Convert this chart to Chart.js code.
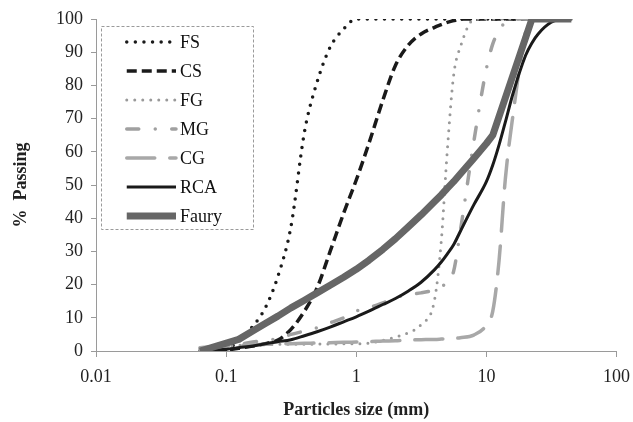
<!DOCTYPE html>
<html>
<head>
<meta charset="utf-8">
<script src="https://cdn.jsdelivr.net/npm/chart.js@4.4.1/dist/chart.umd.min.js"></script>
<style>
html, body { margin: 0; padding: 0; background: #fff; }
</style>
</head>
<body>
<canvas id="grafico" width="633" height="422"></canvas>
<script>
// tamices (mm)
const tamices = [0.063, 0.08, 0.1, 0.125, 0.16, 0.2, 0.25, 0.315, 0.4, 0.5, 0.63, 0.8, 1, 1.25, 1.6, 2, 2.5, 3.15, 4, 4.5, 5, 5.6, 6.3, 8, 10, 11.2, 12.5, 14, 16, 20, 22.4, 25, 31.5, 40, 45]
// % que pasa
const pasaFS = [0, 0, 0.5, 3, 7.4, 13, 22.5, 37.5, 66, 81, 91.5, 97, 100, 100, 100, 100, 100, 100, 100, 100, 100, 100, 100, 100, 100, 100, 100, 100, 100, 100, 100, 100, 100, 100, 100]
const pasaCS = [0, 0, 0.3, 0.8, 1.5, 2.2, 3.3, 6.5, 12, 19, 30, 41.5, 51.5, 62.5, 75.5, 86, 92, 95.5, 97.5, 98.3, 99, 99.5, 100, 100, 100, 100, 100, 100, 100, 100, 100, 100, 100, 100, 100]
const pasaFG = [1, 1.3, 1.5, 1.7, 1.8, 1.9, 2, 2, 2, 2.1, 2.1, 2.2, 2.2, 2.4, 3.2, 4.2, 5.5, 8, 15.5, 33, 60, 83, 91.5, 99.8, 100, 100, 100, 100, 100, 100, 100, 100, 100, 100, 100]
const pasaMG = [0.5, 1, 1.5, 2, 2.7, 3.2, 3.7, 5, 6, 7, 8.5, 10, 12, 13, 14.5, 16, 17, 17.5, 18.5, 19.5, 20.5, 24, 36, 63, 85, 92.5, 96.5, 99, 100, 100, 100, 100, 100, 100, 100]
const pasaCG = [1, 1.3, 1.5, 1.7, 1.9, 2, 2.1, 2.2, 2.3, 2.4, 2.5, 2.6, 2.7, 2.8, 3, 3.1, 3.3, 3.4, 3.5, 3.6, 3.7, 3.8, 4, 4.8, 7.8, 12, 27, 52, 71, 96, 100, 100, 100, 100, 100]
const pasaRCA = [0, 0.2, 0.5, 1, 1.5, 2.2, 2.8, 3.4, 4.6, 5.8, 7.2, 8.8, 10.3, 12, 14, 15.8, 18, 20.7, 24.5, 26.8, 29.2, 32, 36, 44, 51, 56, 62, 69, 77.5, 89, 92.8, 95.5, 99, 100, 100]
const pasaFaury = [0, null, null, 3.5, 6, 8.3, 10.5, 13, 15.3, 17.5, 19.8, 22.2, 24.6, 27.3, 30.6, 33.8, 37.3, 41, 45, 47, 49, 51, 53.3, 58, 62.5, 65, null, null, null, null, 100, null, null, null, 100]

const ticksX = [0.01, 0.1, 1, 10, 100]
const etiquetasX = ['0.01', '0.1', '1', '10', '100']

const fuente = "'Liberation Serif', 'Times New Roman', serif"
const gris = '#9a9a9a'

Chart.defaults.font.family = fuente
Chart.defaults.font.size = 18
Chart.defaults.color = '#222'

function puntos(valores){
    return tamices.map((t, i) => ({x: t, y: valores[i]}))
}

function serie(nombre, valores, color, ancho, guiones, tapa, orden){
    return {
        label: nombre,
        data: puntos(valores),
        borderColor: color,
        borderWidth: ancho,
        borderDash: guiones,
        borderCapStyle: tapa,
        borderJoinStyle: 'round',
        cubicInterpolationMode: 'monotone',
        pointRadius: 0,
        fill: false,
        order: orden
    }
}

const datasets = [
    serie('FS', pasaFS, '#1a1a1a', 3.5, [0, 8.6], 'round', 7),
    serie('CS', pasaCS, '#1a1a1a', 3.5, [10, 5], 'butt', 6),
    serie('FG', pasaFG, '#999999', 3, [0, 8], 'round', 5),
    serie('MG', pasaMG, '#a0a0a0', 3.5, [12, 16.5, 0, 16.5], 'round', 4),
    serie('CG', pasaCG, '#a8a8a8', 3.5, [28, 15], 'round', 3),
    serie('RCA', pasaRCA, '#1a1a1a', 3, [], 'butt', 2),
    serie('Faury', pasaFaury, '#666666', 7, [], 'butt', 1)
]
datasets[6].cubicInterpolationMode = 'default'
datasets[6].tension = 0
datasets[6].spanGaps = true

const leyenda = {
    id: 'leyenda',
    afterDraw(chart){
        const ctx = chart.ctx
        ctx.save()
        ctx.strokeStyle = gris
        ctx.lineWidth = 1
        ctx.setLineDash([3, 2])
        ctx.strokeRect(101.5, 26.5, 152, 203)
        chart.data.datasets.forEach((ds, i) => {
            const y = 42 + i * 29
            ctx.setLineDash(ds.borderDash)
            ctx.lineCap = ds.borderCapStyle
            ctx.strokeStyle = ds.borderColor
            ctx.lineWidth = ds.borderWidth
            ctx.beginPath()
            ctx.moveTo(126.75, y)
            ctx.lineTo(176, y)
            ctx.stroke()
            ctx.setLineDash([])
            ctx.fillStyle = '#111'
            ctx.font = '18px ' + fuente
            ctx.textBaseline = 'middle'
            ctx.fillText(ds.label, 180, y + 1)
        })
        ctx.restore()
    }
}

const contexto = document.getElementById('grafico').getContext('2d')
const grafico = new Chart(contexto, {
    type: 'line',
    data: { datasets: datasets },
    plugins: [leyenda],
    options: {
        responsive: false,
        animation: false,
        devicePixelRatio: 1,
        layout: { padding: { left: 0, top: 19, right: 10, bottom: 0 } },
        plugins: {
            legend: { display: false },
            tooltip: { enabled: false }
        },
        scales: {
            x: {
                type: 'logarithmic',
                min: 0.01,
                max: 100,
                afterBuildTicks: (eje) => { eje.ticks = ticksX.map(v => ({value: v})) },
                afterFit: (eje) => { eje.height = 71 },
                ticks: {
                    padding: 3,
                    maxRotation: 0,
                    font: { lineHeight: 1.9 },
                    callback: (v) => etiquetasX[ticksX.indexOf(v)]
                },
                grid: { drawOnChartArea: false, drawTicks: true, tickLength: 6, color: gris },
                border: { display: true, color: gris },
                title: {
                    display: true,
                    text: 'Particles size (mm)',
                    font: { size: 18, weight: 'bold' },
                    padding: { top: 0, bottom: 1 }
                }
            },
            y: {
                min: 0,
                max: 100,
                afterFit: (eje) => { eje.width = 96 },
                ticks: { stepSize: 10, padding: 8 },
                grid: { drawOnChartArea: false, drawTicks: true, tickLength: 5, color: gris },
                border: { display: true, color: gris },
                title: {
                    display: true,
                    text: '%  Passing',
                    font: { size: 18, weight: 'bold' },
                    padding: { top: 11, bottom: 0 }
                }
            }
        }
    }
})
</script>
</body>
</html>
